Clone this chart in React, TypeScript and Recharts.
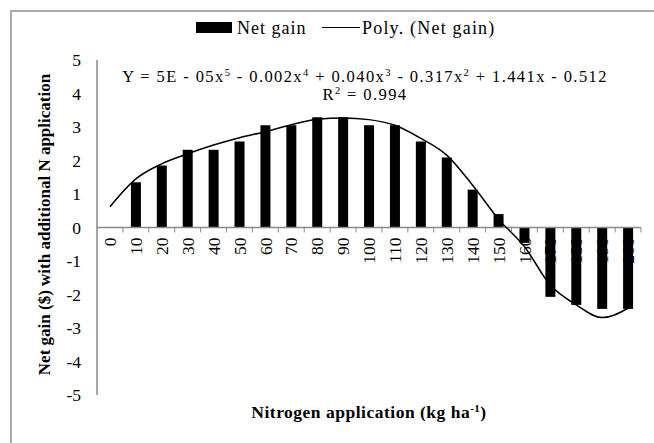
import { Bar, ComposedChart, Line, ReferenceLine, XAxis, YAxis } from 'recharts';

// N rate categories (kg/ha) and net gain per step
const nitrogenRates = ['0', '10', '20', '30', '40', '50', '60', '70', '80', '90', '100', '110', '120', '130', '140', '150', '160', '170', '180', '190', '200'];
const netGain = [0, 1.35, 1.85, 2.32, 2.32, 2.57, 3.05, 3.05, 3.29, 3.29, 3.05, 3.05, 2.57, 2.09, 1.13, 0.4, -0.46, -2.07, -2.31, -2.43, -2.43];
// 5th-order trendline as drawn in the figure, sampled at each category
const polyFit = [0.62, 1.45, 1.9, 2.2, 2.46, 2.68, 2.86, 3.07, 3.23, 3.27, 3.22, 3.05, 2.66, 2.16, 1.26, 0.25, -0.57, -1.72, -2.31, -2.69, -2.41];
const yTicks = [-5, -4, -3, -2, -1, 0, 1, 2, 3, 4, 5];

const data = nitrogenRates.map((n, i) => ({ n, gain: netGain[i], poly: polyFit[i] }));

const W = 654;
const H = 443;
const TOP = 60;
const BOTTOM = 48;
const LEFT = 97;
const RIGHT = 13;
const Y_MIN = -5;
const Y_MAX = 5;
const zeroY = TOP + ((H - TOP - BOTTOM) * Y_MAX) / (Y_MAX - Y_MIN);
const band = (W - LEFT - RIGHT) / nitrogenRates.length;

const FONT = "'Liberation Serif', 'Times New Roman', Times, 'DejaVu Serif', serif";
const AXIS = '#898989';
const FS = 17.5;

const sup = { fontSize: 10.5, position: 'relative' as const, top: -6 };
const eqLine = {
  position: 'absolute' as const,
  left: 0,
  width: 730,
  height: 18,
  textAlign: 'center' as const,
  fontSize: 16.5,
  lineHeight: '18px',
  letterSpacing: 1.4,
  whiteSpace: 'nowrap' as const,
};

function NTick(props: any) {
  const { x, payload } = props;
  return (
    <g>
      <line x1={x + band / 2} x2={x + band / 2} y1={zeroY} y2={zeroY + 5} stroke={AXIS} />
      <text
        transform={`translate(${x},${zeroY + 10}) rotate(-90)`}
        textAnchor="end"
        dy="0.35em"
        style={{ fontFamily: FONT }}
        fontSize={FS}
        fill="#000"
      >
        {payload.value}
      </text>
    </g>
  );
}

function XTitle(props: any) {
  const vb = props.viewBox || { x: LEFT, width: W - LEFT - RIGHT };
  return (
    <text
      x={vb.x + vb.width / 2}
      y={H - 25}
      textAnchor="middle"
      style={{ fontFamily: FONT, letterSpacing: 0.5 }}
      fontSize={FS}
      fontWeight="bold"
      fill="#000"
    >
      Nitrogen application (kg ha
      <tspan dy={-6} fontSize={11}>-1</tspan>
      <tspan dy={6}>)</tspan>
    </text>
  );
}

function YTitle() {
  return (
    <text
      transform={`translate(50,${(TOP + H - BOTTOM) / 2 - 3}) rotate(-90)`}
      textAnchor="middle"
      style={{ fontFamily: FONT }}
      fontSize={17}
      fontWeight="bold"
      fill="#000"
    >
      Net gain ($) with additional N application
    </text>
  );
}

export default function App() {
  return (
    <div style={{ position: 'relative', width: W, height: H, overflow: 'hidden', fontFamily: FONT, background: '#fff' }}>
      <style>{'body{margin:0;overflow:hidden}'}</style>
      <div style={{ position: 'absolute', left: 10, top: 10, width: 700, height: 500, border: '2px solid #ababab', boxSizing: 'border-box' }} />

      {/* legend */}
      <div style={{ position: 'absolute', left: 196, top: 22, height: 11, width: 36, background: '#000' }} />
      <div style={{ position: 'absolute', left: 237, top: 17, fontSize: 18, lineHeight: '22px', letterSpacing: 1 }}>Net gain</div>
      <div style={{ position: 'absolute', left: 322, top: 27, width: 38, height: 0, borderTop: '1.5px solid #000' }} />
      <div style={{ position: 'absolute', left: 362, top: 17, fontSize: 18, lineHeight: '22px', letterSpacing: 1.2 }}>Poly. (Net gain)</div>

      {/* trendline equation */}
      <div style={{ ...eqLine, top: 68 }}>
        Y = 5E - 05x<span style={sup}>5</span> - 0.002x<span style={sup}>4</span> + 0.040x<span style={sup}>3</span> - 0.317x
        <span style={sup}>2</span> + 1.441x - 0.512
      </div>
      <div style={{ ...eqLine, top: 86 }}>
        R<span style={sup}>2</span> = 0.994
      </div>

      <div style={{ position: 'absolute', left: 0, top: 0 }}>
        <ComposedChart width={W} height={H} data={data} margin={{ top: TOP, right: RIGHT, bottom: 0, left: 0 }} barSize={10}>
          <XAxis dataKey="n" axisLine={false} tickLine={false} interval={0} height={BOTTOM} tick={<NTick />} label={<XTitle />} />
          <YAxis
            domain={[Y_MIN, Y_MAX]}
            ticks={yTicks}
            width={LEFT}
            axisLine={{ stroke: AXIS, strokeWidth: 1.5 }}
            tickLine={false}
            tickSize={0}
            tickMargin={16}
            tick={{ fill: '#000', fontSize: FS, style: { fontFamily: FONT } }}
            label={<YTitle />}
          />
          <ReferenceLine y={0} stroke={AXIS} strokeWidth={1.5} />
          <Bar dataKey="gain" fill="#000" isAnimationActive={false} />
          <Line type="monotone" dataKey="poly" stroke="#000" strokeWidth={1.5} dot={false} isAnimationActive={false} />
        </ComposedChart>
      </div>
    </div>
  );
}
